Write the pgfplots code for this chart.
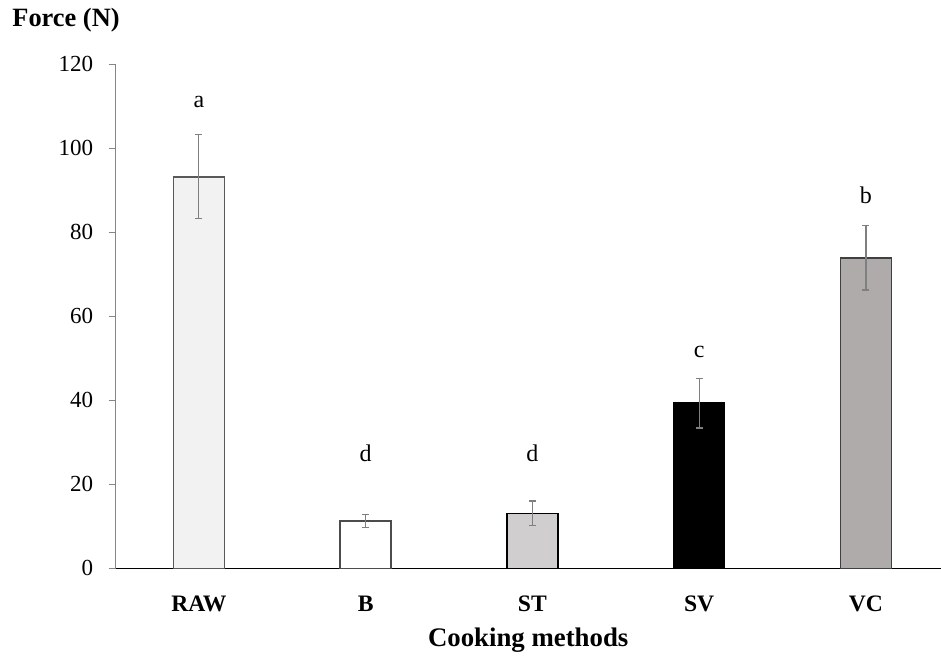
\documentclass[border=0pt]{standalone}
\usepackage{pgfplots}
\pgfplotsset{compat=1.18}
\usepackage{fontspec}
\setmainfont{Liberation Serif}
\definecolor{rawfill}{HTML}{F2F2F2}
\definecolor{stfill}{HTML}{D0CECE}
\definecolor{vcfill}{HTML}{AFABAB}
\definecolor{axgray}{HTML}{868686}
\definecolor{errgray}{HTML}{7F7F7F}
\begin{document}
\begin{tikzpicture}
\path[use as bounding box] (0,0) rectangle (470.5pt,329pt);
\begin{axis}[
  at={(57.75pt,44.85pt)}, anchor=south west,
  scale only axis, width=412.75pt, height=252pt,
  xmin=-0.5, xmax=4.45, ymin=0, ymax=120,
  ytick={0,20,...,120},
  xtick={0,1,2,3,4},
  xticklabels={RAW,B,ST,SV,VC},
  axis lines*=left,
  x axis line style={black, line width=0.75pt},
  y axis line style={axgray, line width=0.75pt},
  tick align=outside,
  major tick length=3.5pt,
  ytick style={axgray, line width=0.75pt},
  xtick style={draw=none},
  /pgf/number format/assume math mode=true,
  yticklabel style={font=\fontsize{11.5}{13}\selectfont, anchor=east, inner sep=0pt, xshift=-7.5pt},
  xticklabel style={font=\fontsize{11.8}{13}\selectfont\bfseries, anchor=north, inner sep=0pt, yshift=-10pt},
  ybar, bar shift=0pt, bar width=25.5pt,
  clip=false,
  error bars/error bar style={errgray, line width=0.6pt},
  error bars/error mark options={rotate=90, errgray, mark size=1.75pt, line width=0.6pt},
]
\addplot[fill=rawfill, draw=black!65, line width=0.75pt, error bars/.cd, y dir=both, y explicit]
  coordinates {(0,93.2) +- (0,10.0)};
\addplot[fill=white, draw=black!70, line width=0.75pt, error bars/.cd, y dir=both, y explicit]
  coordinates {(1,11.3) +- (0,1.5)};
\addplot[fill=stfill, draw=black, line width=0.75pt, error bars/.cd, y dir=both, y explicit]
  coordinates {(2,13.1) +- (0,2.9)};
\addplot[fill=black, draw=black, line width=0.75pt, error bars/.cd, y dir=both, y explicit]
  coordinates {(3,39.3) +- (0,5.9)};
\addplot[fill=vcfill, draw=black!75, line width=0.75pt, error bars/.cd, y dir=both, y explicit]
  coordinates {(4,73.9) +- (0,7.65)};
\node[inner sep=0pt, font=\fontsize{12}{14}\selectfont] at (axis cs:0,111.1) {a};
\node[inner sep=0pt, font=\fontsize{12}{14}\selectfont] at (axis cs:1,27.4) {d};
\node[inner sep=0pt, font=\fontsize{12}{14}\selectfont] at (axis cs:2,27.4) {d};
\node[inner sep=0pt, font=\fontsize{12}{14}\selectfont] at (axis cs:3,51.6) {c};
\node[inner sep=0pt, font=\fontsize{12}{14}\selectfont] at (axis cs:4,88.9) {b};
\end{axis}
\node[anchor=base west, inner sep=0pt, font=\fontsize{13.2}{15}\selectfont\bfseries] at (6pt,315.65pt) {Force (N)};
\node[anchor=base, inner sep=0pt, font=\fontsize{13.4}{15}\selectfont\bfseries] at (264.1pt,5.8pt) {Cooking methods};
\end{tikzpicture}
\end{document}
